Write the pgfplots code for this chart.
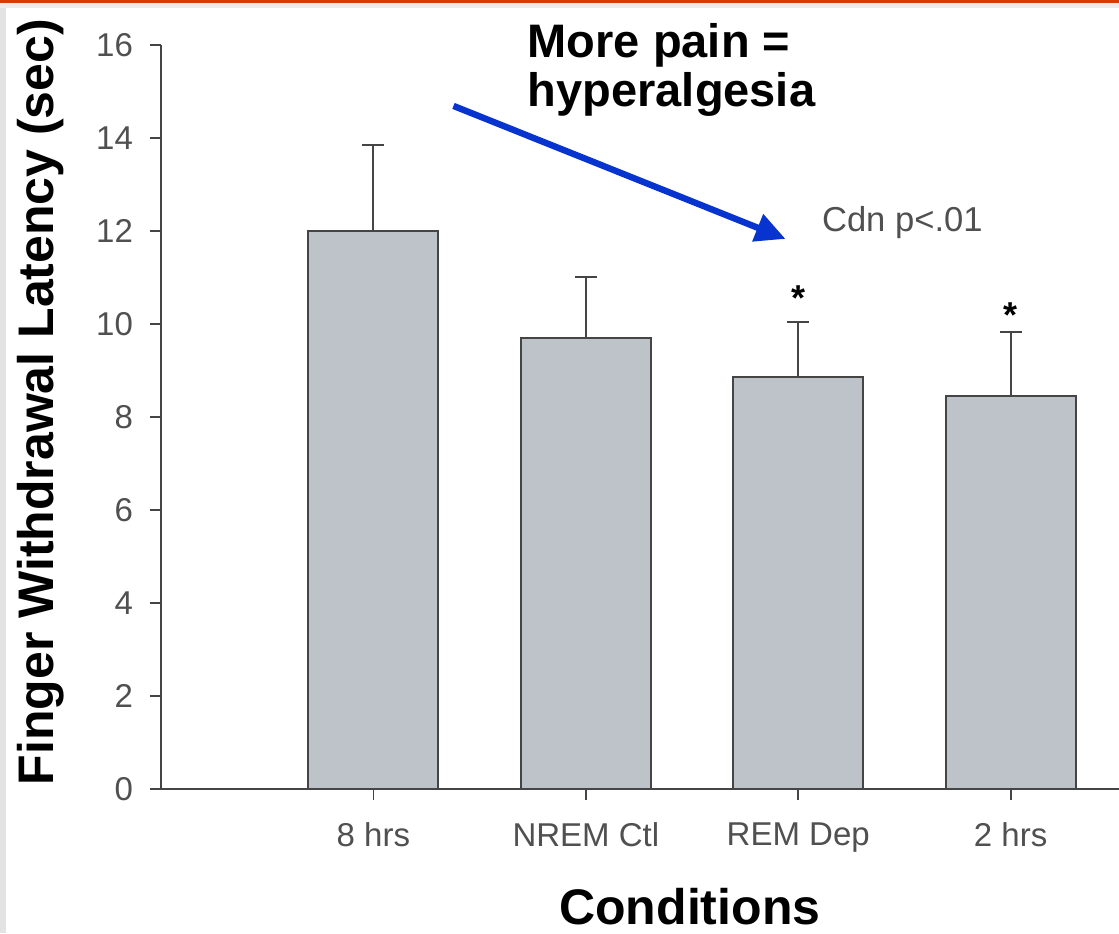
\documentclass[border=0pt]{standalone}
\usepackage{pgfplots}
\pgfplotsset{compat=1.18}
\usepackage{fontspec}
\setmainfont{Liberation Sans}
\usetikzlibrary{arrows.meta}
\definecolor{barfill}{HTML}{BEC3CA}
\definecolor{edge}{HTML}{454545}
\definecolor{tickc}{HTML}{505050}
\definecolor{arrowblue}{HTML}{0733CF}
\definecolor{topline}{HTML}{D83A0A}
\begin{document}
\begin{tikzpicture}
\path[use as bounding box] (0,0) rectangle (559.5pt,466.5pt);
\fill[white] (0,0) rectangle (559.5pt,466.5pt);
\fill[gray!22] (0,0) rectangle (3pt,466.5pt);
\fill[gray!15] (0,462.5pt) rectangle (559.5pt,465pt);
\fill[topline] (0,465pt) rectangle (559.5pt,466.5pt);
\begin{axis}[
  at={(80.5pt,72pt)}, anchor=south west,
  scale only axis, width=479pt, height=372pt,
  xmin=-1, xmax=3.51, ymin=0, ymax=16,
  axis lines=left, axis line style={-, draw=edge, line width=1pt},
  xtick={0,1,2,3}, xticklabels={8 hrs, NREM Ctl, REM Dep, 2 hrs},
  ytick={0,2,...,16},
  tick align=outside, major tick length=5.5pt,
  tick style={draw=edge, line width=0.9pt},
  ticklabel style={font=\fontsize{16.5}{16.5}\selectfont, text=tickc},
  yticklabel style={xshift=-5pt},
  xticklabel style={yshift=-8pt},
  /pgf/number format/assume math mode=true,
  ylabel={Finger Withdrawal Latency (sec)},
  xlabel={Conditions},
  ylabel style={font=\bfseries\fontsize{25}{25}\selectfont, at={(axis description cs:-0.1117,0.52)}, anchor=base, rotate=0},
  xlabel style={font=\bfseries\fontsize{25}{25}\selectfont, at={(axis description cs:0.552,-0.182)}, anchor=base},
  clip=false,
]
\addplot[ybar, bar width=0.612, fill=barfill, draw=edge, line width=1pt,
  error bars/.cd, y dir=plus, y explicit,
  error bar style={draw=edge, line width=1pt},
  error mark options={rotate=90, draw=edge, line width=1pt, mark size=5.5pt}]
  table[x=x, y=y, y error=e] {
x y e
0 12.0 1.85
1 9.7 1.3
2 8.85 1.2
3 8.45 1.38
};
\node[text=tickc, font=\fontsize{17.3}{17.3}\selectfont] at (axis cs:2.49,12.18) {Cdn p<.01};
\node[font=\bfseries\fontsize{18}{18}\selectfont] at (axis cs:2,10.55) {*};
\node[font=\bfseries\fontsize{18}{18}\selectfont] at (axis cs:3,10.19) {*};
\draw[arrowblue, line width=3.2pt, -{Triangle[length=15pt,width=14pt]}] (axis cs:0.377,14.69) -- (axis cs:1.94,11.83);
\node[anchor=base west, inner sep=0pt, font=\bfseries\fontsize{23.5}{23.5}\selectfont] at (axis cs:0.725,15.74) {More pain =};
\node[anchor=base west, inner sep=0pt, font=\bfseries\fontsize{23.5}{23.5}\selectfont] at (axis cs:0.725,14.67) {hyperalgesia};
\end{axis}
\end{tikzpicture}
\end{document}
